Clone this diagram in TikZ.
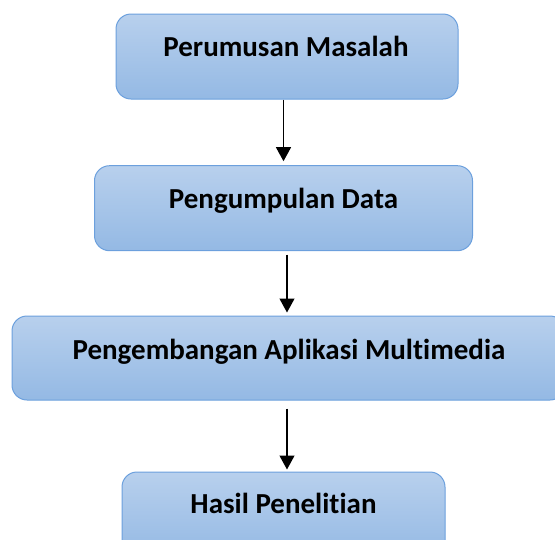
\documentclass[tikz,border=0pt]{standalone}
\usepackage{fontspec}
\setmainfont{Carlito}[Ligatures=NoCommon]
\usetikzlibrary{arrows.meta,calc}
\definecolor{boxtop}{RGB}{184,208,237}
\definecolor{boxbot}{RGB}{148,185,228}
\definecolor{boxline}{RGB}{108,160,221}
\tikzset{
  stepbox/.style={rectangle, rounded corners=15pt, draw=boxline, line width=1pt,
    top color=boxtop, bottom color=boxbot, inner sep=0pt},
  steptext/.style={anchor=base, inner sep=0pt, font=\bfseries\fontsize{29}{34}\selectfont},
  arr/.style={line width=1.2pt, -{Triangle[length=14pt,width=15pt]}}
}
\begin{document}
\begin{tikzpicture}[x=1pt,y=-1pt]
\useasboundingbox (0,0) rectangle (555,539);
\clip (0,0) rectangle (555,539);
\node[stepbox, minimum width=342pt, minimum height=85pt] (b1) at (287,56.5) {};
\node[stepbox, minimum width=378pt, minimum height=85pt] (b2) at (283.5,208.2) {};
\node[stepbox, minimum width=553pt, minimum height=84pt] (b3) at (288.5,358) {};
\node[stepbox, minimum width=323pt, minimum height=85pt] (b4) at (283.5,514.5) {};
\node[steptext] (t1) at ($(b1.north)+(-1,43)$) {Perumusan Masalah};
\node[steptext] (t2) at ($(b2.north)+(0,43.6)$) {Pengumpulan Data};
\node[steptext] (t3) at ($(b3.north)+(0.5,44)$) {Pengembangan Aplikasi Multimedia};
\node[steptext] (t4) at ($(b4.north)+(0,42.3)$) {Hasil Penelitian};
\draw[arr] (b1.south -| b2.north) -- ([yshift=4pt]b2.north);
\draw[arr] ([xshift=3.5pt,yshift=-3.5pt]b2.south) -- ([xshift=-1.5pt,yshift=3pt]b3.north);
\draw[arr] ([xshift=-1.5pt,yshift=-8pt]b3.south) -- ([xshift=3.5pt,yshift=2pt]b4.north);
\end{tikzpicture}
\end{document}
